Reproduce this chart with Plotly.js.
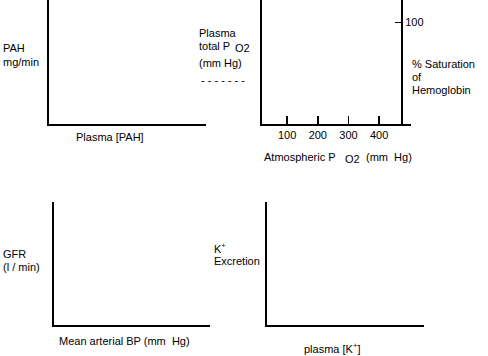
<!DOCTYPE html>
<html>
<head>
<meta charset="utf-8">
<script src="https://cdn.plot.ly/plotly-3.0.1.min.js"></script>
<style>html,body{margin:0;padding:0;background:#fff}#chart{width:488px;height:356px}</style>
</head>
<body>
<div id="chart"></div>
<script>
// Data (the reference shows empty axes; only tick values are given)
const atmPO2Ticks = [100, 200, 300, 400];
const atmPO2TickLabels = ['100', '200', '300', '400'];
const satTicks = [100];
const satTickLabels = ['100'];
const emptyX = [];
const emptyY = [];

const W = 488, H = 356;
const px = v => v / W;
const py = v => 1 - v / H;
const FONT = {family: 'Arial, Liberation Sans, sans-serif', size: 11, color: '#000'};

function baseAxis(extra) {
  return Object.assign({
    showline: true, linecolor: '#000', linewidth: 2,
    showgrid: false, zeroline: false, showticklabels: false,
    ticks: '', fixedrange: true
  }, extra);
}

const traces = [
  {x: emptyX, y: emptyY, xaxis: 'x', yaxis: 'y', type: 'scatter', mode: 'lines'},
  {x: emptyX, y: emptyY, xaxis: 'x2', yaxis: 'y2', type: 'scatter', mode: 'lines'},
  {x: emptyX, y: emptyY, xaxis: 'x2', yaxis: 'y5', type: 'scatter', mode: 'lines'},
  {x: emptyX, y: emptyY, xaxis: 'x3', yaxis: 'y3', type: 'scatter', mode: 'lines'},
  {x: emptyX, y: emptyY, xaxis: 'x4', yaxis: 'y4', type: 'scatter', mode: 'lines'}
];

function ann(text, x, y, opts) {
  return Object.assign({
    text: text, x: px(x), y: py(y), xref: 'paper', yref: 'paper',
    xanchor: 'left', yanchor: 'middle', showarrow: false, font: FONT
  }, opts || {});
}

const layout = {
  width: W, height: H,
  margin: {l: 0, r: 0, t: 0, b: 0},
  paper_bgcolor: '#fff', plot_bgcolor: '#fff',
  showlegend: false,
  font: FONT,
  xaxis: baseAxis({domain: [px(49), px(206)], range: [0, 1], anchor: 'y'}),
  yaxis: baseAxis({domain: [py(124), 1], range: [0, 1], anchor: 'x'}),
  xaxis2: baseAxis({domain: [px(262), px(411)], range: [18, 504], anchor: 'y2',
    showticklabels: true, tickmode: 'array', tickvals: atmPO2Ticks, ticktext: atmPO2TickLabels,
    ticks: 'inside', ticklen: 8, tickwidth: 1.5, tickcolor: '#000', tickfont: FONT}),
  yaxis2: baseAxis({domain: [py(124), 1], range: [0, 1], anchor: 'x2'}),
  yaxis5: baseAxis({domain: [py(124), 1], range: [0, 121.6], anchor: 'free', overlaying: 'y2',
    side: 'right', position: px(402), showticklabels: true, tickmode: 'array',
    tickvals: satTicks, ticktext: satTickLabels, ticks: 'inside', ticklen: 6,
    tickwidth: 1, tickcolor: '#000', tickfont: FONT, ticklabelstandoff: 0}),
  xaxis3: baseAxis({domain: [px(54), px(210)], range: [0, 1], anchor: 'y3'}),
  yaxis3: baseAxis({domain: [py(325), py(202)], range: [0, 1], anchor: 'x3'}),
  xaxis4: baseAxis({domain: [px(267), px(424)], range: [0, 1], anchor: 'y4'}),
  yaxis4: baseAxis({domain: [py(325), py(202)], range: [0, 1], anchor: 'x4'}),
  annotations: [
    ann('PAH', 1, 48),
    ann('mg/min', 1, 62),
    ann('Plasma [PAH]', 74, 137),
    ann('Plasma', 197, 33),
    ann('total P', 197, 46),
    ann('O2', 233, 48),
    ann('(mm Hg)', 197, 63),
    ann('- - - - - - -', 199, 80),
    ann('% Saturation', 410, 64),
    ann('of', 410, 77),
    ann('Hemoglobin', 410, 90),
    ann('Atmospheric P', 262, 157),
    ann('O2', 343, 159),
    ann('(mm  Hg)', 364, 157),
    ann('GFR', 1, 254),
    ann('(l / min)', 1, 267),
    ann('Mean arterial BP (mm  Hg)', 57, 341),
    ann('K<sup>+</sup>', 212, 248),
    ann('Excretion', 212, 261),
    ann('plasma [K<sup>+</sup>]', 302, 348)
  ]
};

Plotly.newPlot('chart', traces, layout, {staticPlot: true, displayModeBar: false});
</script>
</body>
</html>
